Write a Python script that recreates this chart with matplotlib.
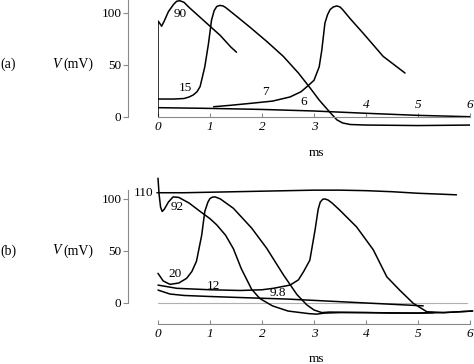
import matplotlib
matplotlib.use("Agg")
import matplotlib.pyplot as plt

plt.rcParams['font.family'] = ['Liberation Serif', 'DejaVu Serif']

# ---------------- data: panel (a) ----------------
a90_t = [0, 0, 0.03, 0.07, 0.12, 0.2, 0.3, 0.36, 0.42, 0.5, 0.6, 0.8, 1.0, 1.2, 1.4, 1.51]
a90_v = [0, 92, 90, 87, 92, 101, 108, 111, 111.5, 110, 105, 96, 87, 78, 67, 62]

a15_t = [0, 0.3, 0.5, 0.6, 0.68, 0.75, 0.81, 0.9, 0.97, 1.03, 1.08, 1.13, 1.19, 1.25, 1.3,
         1.5, 1.77, 2.1, 2.41, 2.7, 2.92, 3.1, 3.31, 3.44, 3.55, 3.7, 4.0, 5.0, 6.05]
a15_v = [17, 17, 17.5, 19, 21, 24, 29, 48, 70, 93, 102, 106, 107, 106.5, 105,
         97, 86, 72, 58, 42, 28, 16, 4, -3, -6, -7.5, -8, -8.5, -8]

a7_t = [1.07, 1.4, 1.77, 2.2, 2.54, 2.75, 2.89, 3.0, 3.1, 3.15, 3.21, 3.26, 3.31, 3.37,
        3.44, 3.5, 3.55, 3.7, 3.95, 4.33, 4.75]
a7_v = [9.6, 11, 12.8, 15, 19, 24, 30, 35, 48, 64, 90, 98, 103, 105.5,
        106.5, 105.5, 103, 94, 80, 58, 42]

a6_t = [0, 1, 2, 3, 4, 5, 6]
a6_v = [8.7, 8, 7, 5.5, 3.3, 1.3, 0]

# ---------------- data: panel (b) ----------------
b110_t = [0, 0.5, 1, 1.5, 2, 2.5, 3, 3.5, 4, 4.5, 5, 5.5, 5.74]
b110_v = [106, 106, 106.5, 107, 107.5, 108, 108.5, 108.5, 108, 107, 105.5, 104.5, 104]

b92_t = [0, 0.02, 0.05, 0.08, 0.12, 0.2, 0.29, 0.4, 0.6, 0.81, 1.0, 1.13, 1.3, 1.45,
         1.6, 1.8, 1.96, 2.2, 2.5, 2.9, 3.05, 3.2, 3.5, 4.0, 4.5, 5.0, 5.3]
b92_v = [120, 105, 92, 88, 90, 97, 102, 101.5, 96, 88, 81, 75, 65, 52,
         33, 13, 4, -3, -8, -10.5, -11, -10, -9.5, -9.5, -10, -10, -9.5]

b20_t = [0, 0.1, 0.23, 0.4, 0.55, 0.65, 0.74, 0.84, 0.9, 0.96, 1.0, 1.05, 1.1, 1.2, 1.45,
         1.8, 2.09, 2.41, 2.67, 2.86, 3.0, 3.15, 3.3, 4.0, 5.0, 5.5, 6.05]
b20_v = [28.3, 21, 17.7, 19, 23.5, 30, 40, 65, 88, 97, 100.5, 101.8, 102, 100, 91,
         72, 52.5, 27, 8, -2, -7, -9.5, -9, -9.5, -10, -9.5, -8]

b12_t = [0, 0.36, 1, 1.58, 2, 2.22, 2.54, 2.7, 2.8, 2.92, 3.02, 3.08, 3.12, 3.17, 3.21,
         3.27, 3.35, 3.5, 3.82, 4.14, 4.4, 4.65, 4.91, 5.17, 5.5, 6.05]
b12_v = [17, 13.9, 12.5, 11.8, 12.5, 13.9, 17, 22, 30, 41, 70, 90, 97, 99.8, 100,
         99, 96, 89, 73, 51, 25, 12, -0.6, -8.7, -9.5, -8]

b98_t = [0, 0.23, 0.5, 1, 1.58, 2.5, 3.5, 4.5, 5.1]
b98_v = [12.2, 8.4, 7, 6, 5, 3.5, 1, -1.5, -3]

x_ticks = [0, 1, 2, 3, 4, 5, 6]
x_labels = ['0', '1', '2', '3', '4', '5', '6']
y_ticks = [0, 50, 100]
y_labels = ['0', '50', '100']

W, H = 474, 364
fig = plt.figure(figsize=(W / 100, H / 100), dpi=100)

SP = '#8a8a8a'
LW = 1.1

def px(x, y):
    return x / W, 1 - y / H

# panel (a) axes: t 0..6 -> px 158..470 ; V 112.2..-12 -> px 0..129.2
axa = fig.add_axes([158 / W, 1 - 129.2 / H, 312 / W, 129.2 / H])
axa.set_xlim(0, 6)
axa.set_ylim(-12, 112.2)
# panel (b) axes: V 123.1..-20.5 -> px 175..324
axb = fig.add_axes([158 / W, 1 - 324 / H, 312 / W, 149 / H])
axb.set_xlim(0, 6)
axb.set_ylim(-20.5, 123.1)

for ax in (axa, axb):
    ax.patch.set_visible(False)
    ax.spines['top'].set_visible(False)
    ax.spines['right'].set_visible(False)
    ax.spines['left'].set_position(('outward', 21.6))
    ax.spines['left'].set_color(SP)
    ax.spines['left'].set_linewidth(0.8)
    ax.spines['bottom'].set_color(SP)
    ax.spines['bottom'].set_linewidth(0.8)
    ax.spines['bottom'].set_bounds(0, 6)
    ax.set_yticks(y_ticks, y_labels, fontsize=9.5)
    ax.tick_params(axis='y', direction='out', length=3.6, width=0.8, color=SP, pad=1)
    ax.tick_params(axis='x', direction='in', length=3, width=0.8, color=SP)

axa.spines['left'].set_bounds(0, 112.2)
axb.spines['left'].set_bounds(0, 109)
axa.spines['bottom'].set_position(('data', 0))

# x tick labels: (a) 0-3 below, 4-6 above the axis
axa.set_xticks(x_ticks, [l if i < 4 else '' for i, l in enumerate(x_labels)],
               fontsize=9.5, fontstyle='italic')
axa.tick_params(axis='x', pad=3)
for tk, lb in zip(x_ticks[4:], x_labels[4:]):
    axa.text(tk, 5.5, lb, ha='center', va='bottom', fontsize=9.5, fontstyle='italic')

axb.set_xticks(x_ticks, x_labels, fontsize=9.5, fontstyle='italic')
axb.tick_params(axis='x', pad=3)

# curves (a)
for t, v in ((a90_t, a90_v), (a15_t, a15_v), (a7_t, a7_v), (a6_t, a6_v)):
    axa.plot(t, v, color='black', lw=LW, solid_joinstyle='round',
             solid_capstyle='round', clip_on=True)

# curves (b)
axb.plot([0, 5.95], [0, 0], color='#b0b0b0', lw=0.8)
for t, v in ((b110_t, b110_v), (b92_t, b92_v), (b20_t, b20_v), (b12_t, b12_v), (b98_t, b98_v)):
    axb.plot(t, v, color='black', lw=LW, solid_joinstyle='round',
             solid_capstyle='round', clip_on=False)

# curve labels
fs = 9.5
axa.text(0.42, 99, '90', ha='center', va='center', fontsize=fs)
axa.text(0.52, 28, '15', ha='center', va='center', fontsize=fs)
axa.text(2.06, 24, '7', ha='center', va='center', fontsize=fs)
axa.text(2.8, 13.8, '6', ha='center', va='center', fontsize=fs)

axb.annotate('110', xy=(0, 106), xytext=(-0.08, 105.5), ha='right', va='center',
             fontsize=fs, annotation_clip=False,
             arrowprops=dict(arrowstyle='-', lw=0.8, color='black', shrinkA=0, shrinkB=0))
axb.text(0.36, 92, '92', ha='center', va='center', fontsize=fs)
axb.text(0.33, 27.4, '20', ha='center', va='center', fontsize=fs)
axb.text(1.06, 16, '12', ha='center', va='center', fontsize=fs)
axb.text(2.31, 9, '9.8', ha='center', va='center', fontsize=fs)

# panel labels
for yy, tag in ((64, '(a)'), (251, '(b)')):
    fig.text(*px(0, yy), tag, ha='left', va='center', fontsize=10)
    fig.text(*px(56.5, yy), 'V', ha='center', va='center', fontsize=10, fontstyle='italic')
    fig.text(*px(78.5, yy), '(mV)', ha='center', va='center', fontsize=10)
fig.text(*px(317, 153), 'ms', ha='center', va='center', fontsize=9.5)
fig.text(*px(317, 359), 'ms', ha='center', va='center', fontsize=9.5)

fig.savefig('out.png', dpi=100)
